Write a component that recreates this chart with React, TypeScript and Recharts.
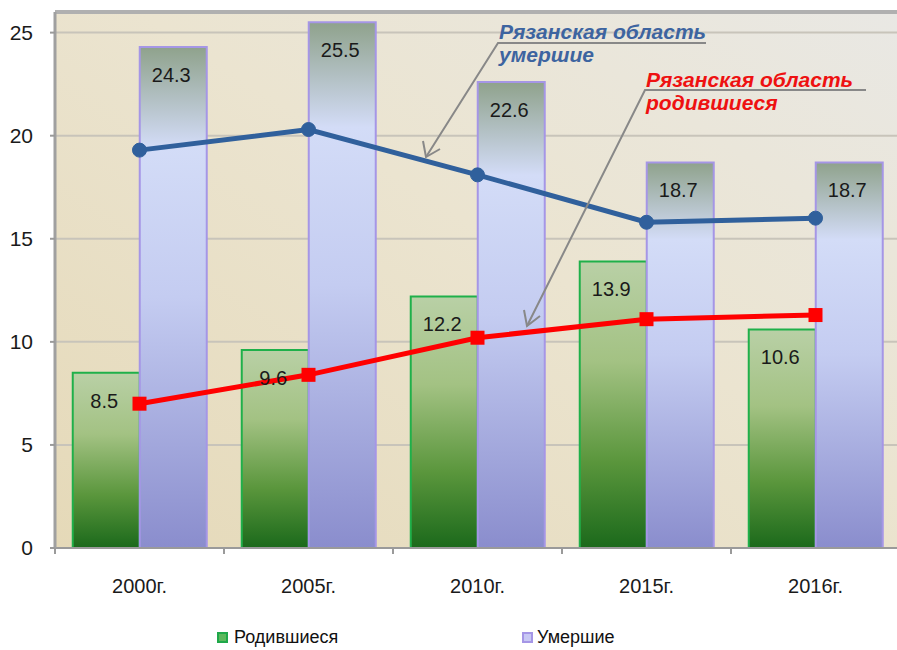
import React from 'react';
import {
    ComposedChart,
    Bar,
    Line,
    XAxis,
    YAxis,
    CartesianGrid,
    ReferenceLine,
    LabelList,
} from 'recharts';

// Рязанская область: родившиеся / умершие (на 1000 чел.)
const years = ['2000г.', '2005г.', '2010г.', '2015г.', '2016г.'];
const bornBars = [8.5, 9.6, 12.2, 13.9, 10.6];
const diedBars = [24.3, 25.5, 22.6, 18.7, 18.7];
const diedLine = [19.3, 20.3, 18.1, 15.8, 16.0];
const bornLine = [7.0, 8.4, 10.2, 11.1, 11.3];
const yTicks = [0, 5, 10, 15, 20, 25];

const data = years.map((year, i) => ({
    year,
    born: bornBars[i],
    died: diedBars[i],
    diedRegion: diedLine[i],
    bornRegion: bornLine[i],
}));

const FONT = '"Liberation Sans", Arial, sans-serif';
const TICK_MARGIN = 23;

const SquareDot = (props: any) => {
    const { cx, cy } = props;
    if (cx == null || cy == null) return null;
    return <rect x={cx - 7} y={cy - 7} width={14} height={14} fill="#ff0000" />;
};

const renderBarLabel = (props: any) => {
    const { x, y, width, value } = props;
    return (
        <text
            x={x + width / 2 - 2}
            y={y + 35}
            textAnchor="middle"
            fontSize={20}
            fontFamily={FONT}
            fill="#1a1a1a"
        >
            {value.toFixed(1)}
        </text>
    );
};

// category label + Excel-style tick marks on the category edges
const YearTick = (props: any) => {
    const { x, y, payload, index, visibleTicksCount } = props;
    const half = payload.offset || 0;
    const axisY = y - TICK_MARGIN;
    const last = index === (visibleTicksCount ?? years.length) - 1;
    return (
        <g>
            <line x1={x - half} x2={x - half} y1={axisY} y2={axisY + 6} stroke="#9a9a9a" strokeWidth={2} />
            {last && <line x1={x + half} x2={x + half} y1={axisY} y2={axisY + 6} stroke="#9a9a9a" strokeWidth={2} />}
            <text x={x} y={y} dy={22} textAnchor="middle" fontSize={20} fontFamily={FONT} fill="#1a1a1a">
                {payload.value}
            </text>
        </g>
    );
};

const LegendBox = () => (
    <div style={{ position: 'absolute', left: 0, top: 627, width: 897, height: 22, fontFamily: FONT, fontSize: 18, color: '#111' }}>
        <div style={{ position: 'absolute', left: 217, top: 0, display: 'flex', alignItems: 'center' }}>
            <span style={{ width: 7, height: 7, background: '#5cb85c', border: '2px solid #1fa84a', marginRight: 6 }} />
            Родившиеся
        </div>
        <div style={{ position: 'absolute', left: 522, top: 0, display: 'flex', alignItems: 'center' }}>
            <span style={{ width: 7, height: 7, background: '#c8c8f4', border: '2px solid #a596e6', marginRight: 4 }} />
            Умершие
        </div>
    </div>
);

// annotation callouts drawn on top of the chart
const Callouts = () => (
    <svg width={897} height={650} style={{ position: 'absolute', left: 0, top: 0, pointerEvents: 'none' }}>
        <g fontFamily={FONT} fontWeight="bold" fontStyle="italic" fontSize={21}>
            <text x={499} y={39} fill="#3d64a0">Рязанская область</text>
            <text x={499} y={62} fill="#3d64a0">умершие</text>
            <text x={646} y={87} fill="#ee1111">Рязанская область</text>
            <text x={646} y={110} fill="#ee1111">родившиеся</text>
        </g>
        <g stroke="#888" strokeWidth={2} fill="none">
            <polyline points="706,43 498,43 426,157" />
            <polyline points="423,141 426,157 440,149" />
            <polyline points="866,90 645,90 527,326" />
            <polyline points="524,310 527,326 540,316" />
        </g>
    </svg>
);

export default function App() {
    return (
        <div style={{ position: 'absolute', left: 0, top: 0, width: 897, height: 650, overflow: 'hidden', background: '#fff' }}>
            <ComposedChart
                width={900}
                height={650}
                data={data}
                margin={{ top: 12, right: 0, bottom: 0, left: 0 }}
                barCategoryGap="10.5%"
                barGap={0}
            >
                <defs>
                    <linearGradient id="plotBg" x1="0" y1="1" x2="1" y2="0">
                        <stop offset="0%" stopColor="#e5d9b8" />
                        <stop offset="55%" stopColor="#ebe4d0" />
                        <stop offset="100%" stopColor="#e9e8e4" />
                    </linearGradient>
                    <linearGradient id="greenBar" x1="0" y1="0" x2="0" y2="1">
                        <stop offset="0%" stopColor="#b9d0a6" />
                        <stop offset="35%" stopColor="#a3c283" />
                        <stop offset="70%" stopColor="#5a963c" />
                        <stop offset="100%" stopColor="#1b691b" />
                    </linearGradient>
                    <linearGradient id="blueBar" x1="0" y1="0" x2="0" y2="1">
                        <stop offset="0%" stopColor="#8fa28c" />
                        <stop offset="20%" stopColor="#d3dcf7" />
                        <stop offset="50%" stopColor="#c4ccf1" />
                        <stop offset="100%" stopColor="#8a8dcd" />
                    </linearGradient>
                </defs>
                <CartesianGrid vertical={false} stroke="#c8c4ba" strokeWidth={2} fill="url(#plotBg)" />
                <XAxis
                    dataKey="year"
                    height={102}
                    tickLine={false}
                    tickSize={0}
                    tickMargin={TICK_MARGIN}
                    axisLine={{ stroke: '#9a9a9a', strokeWidth: 2 }}
                    tick={<YearTick />}
                    interval={0}
                />
                <YAxis
                    domain={[0, 26]}
                    ticks={yTicks}
                    width={55}
                    tickSize={5}
                    tickMargin={17}
                    axisLine={{ stroke: '#a0a0a0', strokeWidth: 3 }}
                    tickLine={{ stroke: '#9a9a9a', strokeWidth: 2 }}
                    tick={{ fontSize: 21, fill: '#1a1a1a', fontFamily: FONT }}
                />
                <ReferenceLine y={26} stroke="#b0b0b0" strokeWidth={4} />
                <Bar dataKey="born" fill="url(#greenBar)" stroke="#1fb04a" strokeWidth={2} isAnimationActive={false}>
                    <LabelList dataKey="born" content={renderBarLabel} />
                </Bar>
                <Bar dataKey="died" fill="url(#blueBar)" stroke="#a596e6" strokeWidth={2} isAnimationActive={false}>
                    <LabelList dataKey="died" content={renderBarLabel} />
                </Bar>
                <Line
                    dataKey="diedRegion"
                    stroke="#30609c"
                    strokeWidth={5}
                    dot={{ r: 7, fill: '#30609c', stroke: '#30609c', strokeWidth: 1 }}
                    isAnimationActive={false}
                />
                <Line
                    dataKey="bornRegion"
                    stroke="#ff0000"
                    strokeWidth={5}
                    dot={<SquareDot />}
                    isAnimationActive={false}
                />
            </ComposedChart>
            <LegendBox />
            <Callouts />
        </div>
    );
}
